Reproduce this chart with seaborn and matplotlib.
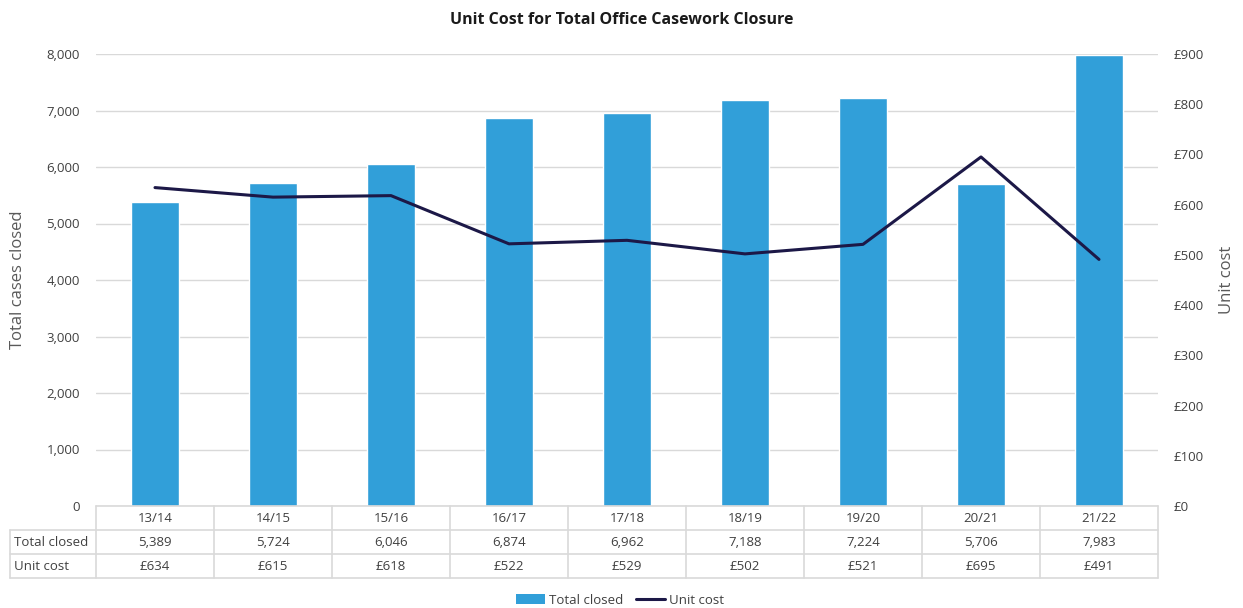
import matplotlib
matplotlib.use("Agg")
import matplotlib.pyplot as plt
from matplotlib.lines import Line2D
from matplotlib.patches import Patch
from matplotlib.ticker import FuncFormatter, MultipleLocator
import matplotlib.transforms as mtransforms
import numpy as np
import pandas as pd
import seaborn as sns

years = ["13/14", "14/15", "15/16", "16/17", "17/18", "18/19", "19/20", "20/21", "21/22"]
total_closed = [5389, 5724, 6046, 6874, 6962, 7188, 7224, 5706, 7983]
unit_cost = [634, 615, 618, 522, 529, 502, 521, 695, 491]

BAR_COLOR = "#319fd9"
LINE_COLOR = "#1c1847"
GRID_COLOR = "#d9d9d9"
TEXT_COLOR = "#404040"

sns.set_theme(style="white")
plt.rcParams["font.family"] = ["Open Sans", "DejaVu Sans"]

df = pd.DataFrame({"year": years, "total": total_closed, "cost": unit_cost})
df["pos"] = np.arange(len(years))

fig = plt.figure(figsize=(12.43, 6.08), dpi=100)
ax_w = 1062
ax = fig.add_axes([96 / 1243, 1 - 506 / 608, ax_w / 1243, 452 / 608])

sns.barplot(data=df, x="year", y="total", color=BAR_COLOR, width=0.41,
            saturation=1, ax=ax, zorder=2)
ax.set_xlim(-0.5, len(years) - 0.5)
ax.set_ylim(0, 8000)
ax.yaxis.set_major_locator(MultipleLocator(1000))
ax.yaxis.set_major_formatter(FuncFormatter(lambda v, p: f"{int(v):,}"))
ax.grid(axis="y", color=GRID_COLOR, linewidth=1, zorder=0)
ax.set_axisbelow(True)
ax.set_xticks([])
ax.set_xlabel("")
ax.set_ylabel("Total cases closed", fontsize=12, color="#595959")
ax.yaxis.set_label_coords(-70 / ax_w, 0.5)
ax.tick_params(axis="y", length=0, labelsize=9.5, labelcolor=TEXT_COLOR, pad=11.5)
for s in ax.spines.values():
    s.set_visible(False)

ax2 = ax.twinx()
sns.lineplot(x=df["pos"], y=df["cost"], color=LINE_COLOR, linewidth=2.2, ax=ax2, zorder=3)
ax2.set_ylim(0, 900)
ax2.yaxis.set_major_locator(MultipleLocator(100))
ax2.yaxis.set_major_formatter(FuncFormatter(lambda v, p: f"£{int(v)}"))
ax2.tick_params(axis="y", length=0, labelsize=9.5, labelcolor=TEXT_COLOR, pad=11)
ax2.set_ylabel("Unit cost", fontsize=12, color="#595959")
ax2.yaxis.set_label_coords(1 + 61 / ax_w, 0.5)
ax2.grid(False)
for s in ax2.spines.values():
    s.set_visible(False)

# Data table beneath the plot area
row_h = 24 / 452
rows = [
    ("", years),
    ("Total closed", [f"{v:,}" for v in total_closed]),
    ("Unit cost", [f"£{v}" for v in unit_cost]),
]
trans = mtransforms.blended_transform_factory(ax.transData, ax.transAxes)
label_left = -86 / ax_w
n = len(years)
for r, (label, cells) in enumerate(rows):
    top = -r * row_h
    bot = -(r + 1) * row_h
    mid = (top + bot) / 2
    for i, txt in enumerate(cells):
        ax.text(i, mid, txt, transform=trans, ha="center", va="center",
                fontsize=9.5, color=TEXT_COLOR, clip_on=False)
    if label:
        ax.text(label_left + 4 / ax_w, mid, label, transform=ax.transAxes,
                ha="left", va="center", fontsize=9.5, color=TEXT_COLOR, clip_on=False)

grid_kw = dict(color=GRID_COLOR, linewidth=1.2, clip_on=False)
ax.add_line(Line2D([0, 1], [0, 0], transform=ax.transAxes, **grid_kw))
for r in range(1, 4):
    ax.add_line(Line2D([label_left, 1], [-r * row_h, -r * row_h], transform=ax.transAxes, **grid_kw))
for k in range(n + 1):
    ax.add_line(Line2D([k - 0.5, k - 0.5], [0, -3 * row_h], transform=trans, **grid_kw))
ax.add_line(Line2D([label_left, label_left], [-row_h, -3 * row_h], transform=ax.transAxes, **grid_kw))

fig.suptitle("Unit Cost for Total Office Casework Closure", y=1 - 20 / 608,
             fontsize=11.5, fontweight="bold", color="#1a1a1a", va="center")

handles = [Patch(facecolor=BAR_COLOR, edgecolor="none", label="Total closed"),
           Line2D([0], [0], color=LINE_COLOR, linewidth=2.2, label="Unit cost")]
fig.legend(handles=handles, loc="center", bbox_to_anchor=(620 / 1243, 1 - 600 / 608),
           ncol=2, frameon=False, fontsize=9.5, handlelength=2.2, handleheight=0.7,
           columnspacing=1.0, handletextpad=0.3, labelcolor=TEXT_COLOR)

fig.savefig("out.png", dpi=100, facecolor="white")
